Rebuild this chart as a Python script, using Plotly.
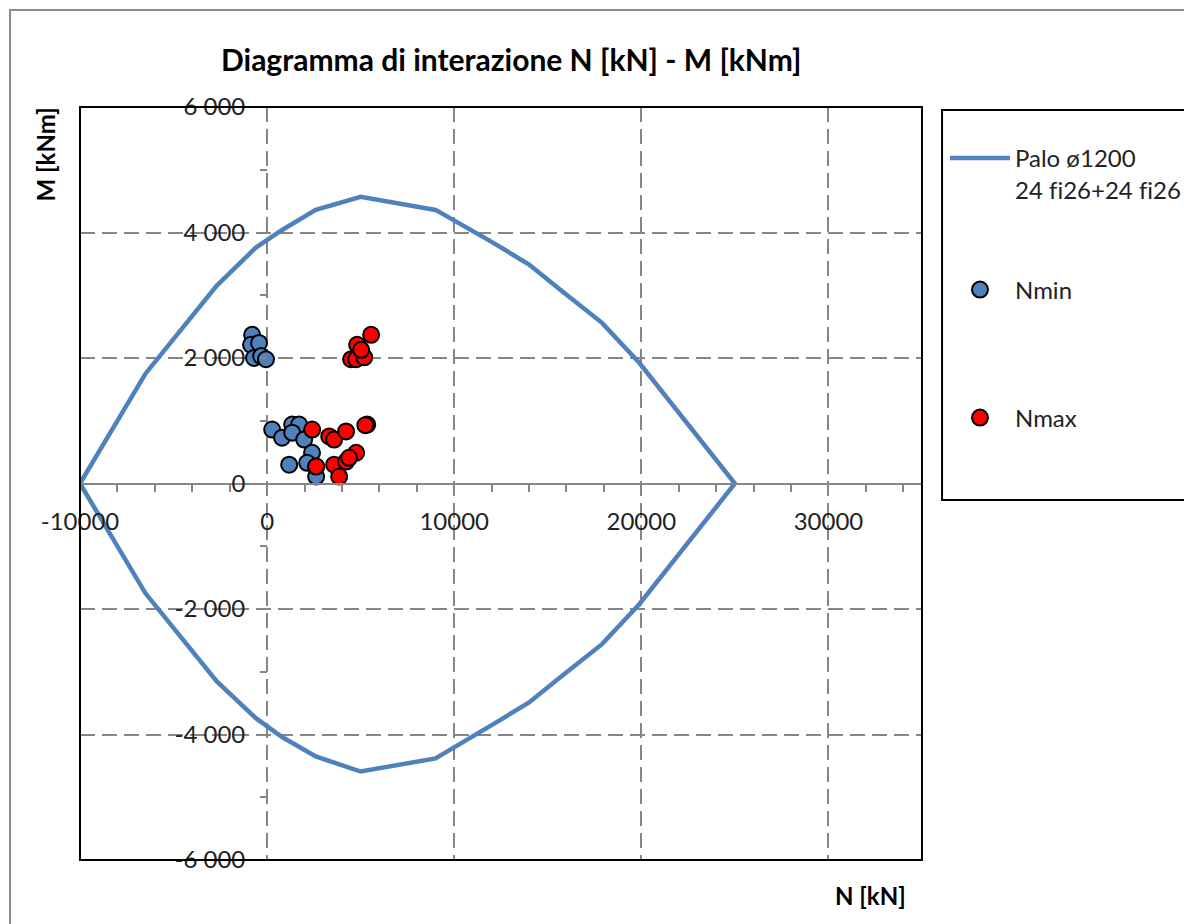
import plotly.graph_objects as go

# interaction domain (N [kN], M [kNm])
dominio_N = [-10000, -6500, -2700, -600, 800, 2600, 5000, 9000, 12000, 14000, 15700, 17900, 19900, 25000,
             19900, 17900, 15700, 14000, 12000, 9000, 5000, 2600, 800, -600, -2700, -6500, -10000]
dominio_M = [0, 1750, 3150, 3760, 4040, 4360, 4570, 4360, 3850, 3490, 3080, 2560, 1920, 0,
             -1920, -2560, -3080, -3490, -3850, -4380, -4590, -4350, -4040, -3740, -3150, -1750, 0]

# load combinations
nmin_N = [-800, -860, -430, -700, -320, -60,
          270, 800, 1340, 1710, 1340, 1980, 2400, 1180, 2140, 2620, 2620]
nmin_M = [2370, 2210, 2240, 2000, 2030, 1980,
          860, 730, 940, 940, 810, 700, 490, 300, 330, 270, 110]

nmax_N = [5560, 4810, 4490, 4760, 5190, 5030,
          2410, 3320, 3580, 4220, 5350, 5250, 2620, 3580, 3850, 4220, 4760, 4380]
nmax_M = [2370, 2210, 1980, 1980, 2010, 2130,
          860, 750, 700, 830, 940, 930, 270, 300, 110, 350, 490, 410]

x_tick_vals = [-10000, 0, 10000, 20000, 30000]
x_tick_text = ['-10000', '0', '10000', '20000', '30000']
y_tick_vals = [-6000, -4000, -2000, 0, 2000, 4000, 6000]
y_tick_text = ['-6 000', '-4 000', '-2 000', '0', '2 000', '4 000', '6 000']

BLUE = '#4F81BD'
GRID = '#868686'
FONT = 'Lato'
TXT = '#222222'

fig = go.Figure()

# \u200c keeps "fi" from turning into a ligature
fig.add_trace(go.Scatter(x=dominio_N, y=dominio_M, mode='lines',
                         name='Palo ø1200<br>24 f\u200ci26+24 f\u200ci26',
                         line=dict(color=BLUE, width=4.5), legend='legend'))
fig.add_trace(go.Scatter(x=nmin_N, y=nmin_M, mode='markers', name='Nmin', legend='legend2',
                         marker=dict(color=BLUE, size=16, line=dict(color='black', width=2))))
fig.add_trace(go.Scatter(x=nmax_N, y=nmax_M, mode='markers', name='Nmax', legend='legend3',
                         marker=dict(color='#FF0000', size=16, line=dict(color='black', width=2))))

x_min, x_max = -10000, 35000
y_axis_pos = (0 - x_min) / (x_max - x_min)

tick_font = dict(size=24, color=TXT, family=FONT)
fig.update_xaxes(range=[x_min, x_max], tickvals=x_tick_vals, ticktext=x_tick_text,
                 showgrid=True, gridcolor=GRID, griddash='15px,7px', gridwidth=2,
                 zeroline=False, showline=True, linecolor=GRID, linewidth=2,
                 anchor='free', position=0.5,
                 ticks='outside', ticklen=7, tickcolor=GRID, tickwidth=2, ticklabelstandoff=10,
                 minor=dict(dtick=2000, ticks='outside', ticklen=7, tickcolor=GRID, tickwidth=2, showgrid=False),
                 tickfont=tick_font)
fig.update_yaxes(range=[-6000, 6000], tickvals=y_tick_vals, ticktext=y_tick_text,
                 showgrid=True, gridcolor=GRID, griddash='15px,7px', gridwidth=2,
                 zeroline=False, showline=False,
                 anchor='free', position=y_axis_pos,
                 ticks='outside', ticklen=7, tickcolor=GRID, tickwidth=2, ticklabelstandoff=10,
                 minor=dict(dtick=1000, ticks='outside', ticklen=7, tickcolor=GRID, tickwidth=2, showgrid=False),
                 tickfont=tick_font)

# plot frame, legend frame and outer chart frame
fig.add_shape(type='rect', xref='paper', yref='paper', x0=0, x1=1, y0=0, y1=1,
              line=dict(color='black', width=2), layer='above')
fig.add_shape(type='rect', xref='paper', yref='paper', x0=1.0238, x1=1.318, y0=0.478, y1=0.996,
              line=dict(color='black', width=2))
fig.add_shape(type='rect', xref='paper', yref='paper', x0=-0.0831, x1=1.34, y0=-0.095, y1=1.1288,
              line=dict(color='#8C8C8C', width=2))

fig.add_annotation(text='<b>M [kNm]</b>', xref='paper', yref='paper', x=-0.0416, y=0.937,
                   xanchor='center', yanchor='middle',
                   textangle=-90, showarrow=False, font=dict(size=24, color='black', family=FONT))
fig.add_annotation(text='<b>N [kN]</b>', xref='paper', yref='paper', x=0.939, y=-0.0465,
                   xanchor='center', yanchor='middle',
                   showarrow=False, font=dict(size=24, color='black', family=FONT))

leg = dict(x=1.0273, xanchor='left', yanchor='middle', valign='top',
           font=dict(size=24, color=TXT, family=FONT), itemwidth=60, bgcolor='rgba(0,0,0,0)')

# the page body has an 8px margin, so the figure is 8px smaller and shifted
fig.update_layout(
    width=1184, height=916,
    paper_bgcolor='white', plot_bgcolor='white',
    margin=dict(l=72, r=270, t=99, b=64, pad=0, autoexpand=False),
    title=dict(text='<b>Diagramma di interazione N [kN] - M [kNm]</b>', x=0.425, xanchor='center',
               y=0.943, yanchor='middle', font=dict(size=30, color='black', family=FONT)),
    font=dict(family=FONT),
    legend=dict(leg, y=0.911),
    legend2=dict(leg, y=0.757),
    legend3=dict(leg, y=0.587),
    showlegend=True,
)

fig.write_html("out.html")
